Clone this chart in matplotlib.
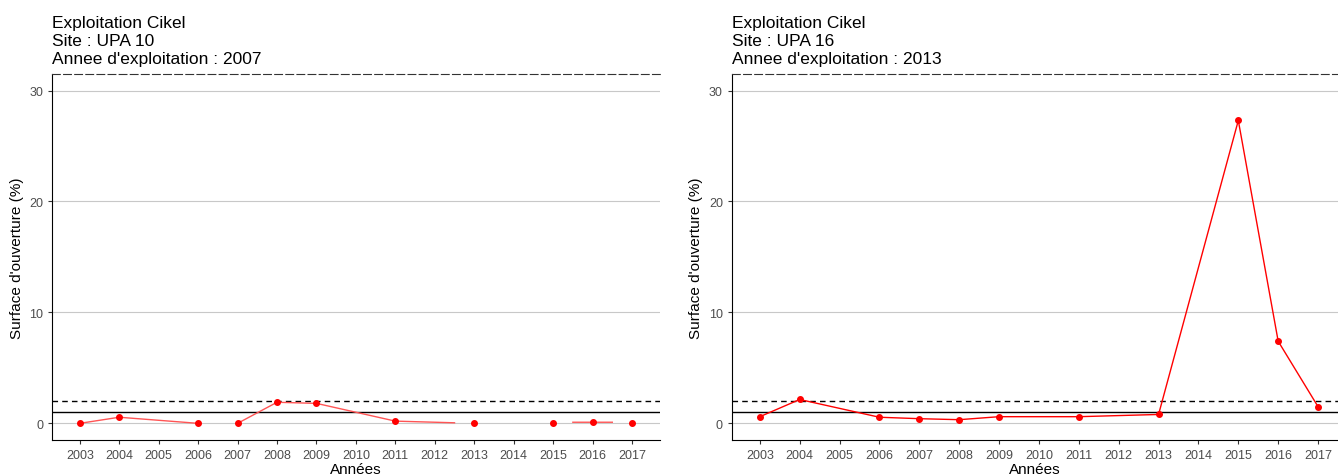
import matplotlib
matplotlib.use("Agg")
import matplotlib.pyplot as plt
import numpy as np

plt.rcParams["font.family"] = ["Liberation Sans", "DejaVu Sans"]

years = list(range(2003, 2018))

# UPA 10 (2007): points and line path (NaN = break in the line)
upa10_x = [2003, 2004, 2006, 2007, 2008, 2009, 2011, 2013, 2015, 2016, 2017]
upa10_y = [0.0, 0.55, 0.0, 0.0, 1.9, 1.8, 0.2, 0.0, 0.0, 0.1, 0.0]
upa10_line_x = [2003, 2004, 2006, np.nan, 2007, 2008, 2009, 2011, 2012.5, np.nan, 2015.5, 2016.5]
upa10_line_y = [0.0, 0.55, 0.0, np.nan, 0.0, 1.9, 1.8, 0.2, 0.05, np.nan, 0.1, 0.1]

# UPA 16 (2013)
upa16_x = [2003, 2004, 2006, 2007, 2008, 2009, 2011, 2013, 2015, 2016, 2017]
upa16_y = [0.6, 2.15, 0.55, 0.42, 0.33, 0.6, 0.6, 0.8, 27.3, 7.4, 1.5]

panels = [
    ("Exploitation Cikel\nSite : UPA 10\nAnnee d'exploitation : 2007",
     upa10_x, upa10_y, upa10_line_x, upa10_line_y, "#ff5555", (2002.3, 2017.7)),
    ("Exploitation Cikel\nSite : UPA 16\nAnnee d'exploitation : 2013",
     upa16_x, upa16_y, upa16_x, upa16_y, "red", (2002.3, 2017.5)),
]

fig = plt.figure(figsize=(13.38, 4.77), dpi=100)
boxes = [[0.039, 0.0755, 0.454, 0.7675], [0.547, 0.0755, 0.453, 0.7675]]

for box, (title, px, py, lx, ly, lc, xl) in zip(boxes, panels):
    ax = fig.add_axes(box)
    ax.plot(lx, ly, color=lc, lw=1, zorder=3)
    ax.plot(px, py, "o", color="red", ms=4, zorder=4)
    ax.axhline(1, color="black", lw=1, zorder=2)
    ax.axhline(2, color="black", lw=1, ls=(0, (4, 3)), zorder=2)
    ax.set_xlim(*xl)
    ax.set_ylim(-1.5, 31.5)
    ax.set_xticks(years)
    ax.set_xticklabels([str(y) for y in years])
    ax.set_yticks([0, 10, 20, 30])
    ax.yaxis.grid(True, color="#c8c8c8", lw=0.8)
    ax.set_axisbelow(True)
    ax.tick_params(labelsize=9, labelcolor="#4d4d4d", length=3, color="#333333")
    ax.spines["right"].set_visible(False)
    ax.spines["top"].set_linestyle((0, (7, 3)))
    ax.spines["top"].set_color("#333333")
    ax.set_xlabel("Années", fontsize=11, labelpad=1)
    ax.set_ylabel("Surface d'ouverture (%)", fontsize=11)
    ax.set_title(title, loc="left", fontsize=12.5, linespacing=1.22, pad=8)

fig.savefig("out.png", dpi=100)
